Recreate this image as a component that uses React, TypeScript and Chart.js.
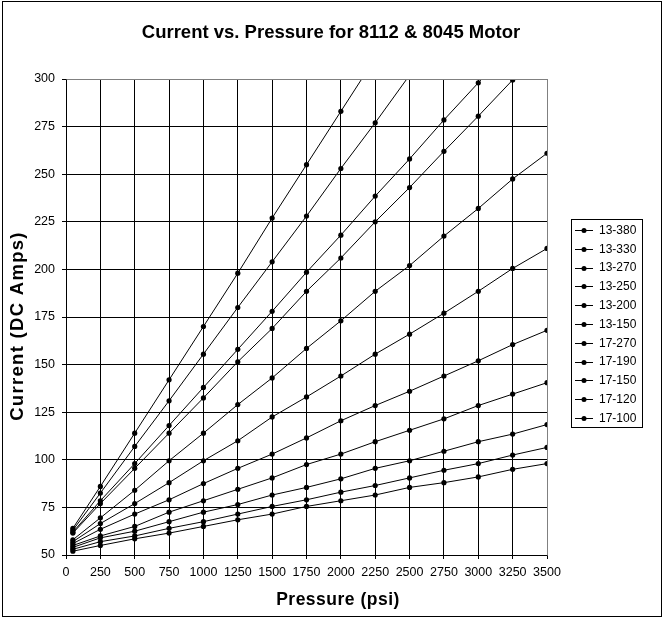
import React, { useEffect, useRef } from "react";
import { Chart, registerables } from "chart.js";

Chart.register(...registerables);

const chartTitle = "Current vs. Pressure for 8112 & 8045 Motor";
const xAxisTitle = "Pressure (psi)";
const yAxisTitle = "Current (DC Amps)";

const pressures = [50, 250, 500, 750, 1000, 1250, 1500, 1750, 2000, 2250, 2500, 2750, 3000, 3250, 3500];

const seriesNames = ["13-380", "13-330", "13-270", "13-250", "13-200", "13-150", "17-270", "17-190", "17-150", "17-120", "17-100"];

const s13_380 = [64, 86, 114, 142, 170, 198, 227, 255, 283, 311];
const s13_330 = [63, 82.5, 107, 131, 155.5, 180, 204, 228, 253, 277, 302];
const s13_270 = [62, 78.5, 98, 118, 138, 158, 178, 198.5, 218, 238.5, 258, 278.5, 298, 318];
const s13_250 = [61.5, 77, 95.5, 114, 132.5, 151.5, 169, 188.5, 206, 225, 243, 262, 280.5, 299.5, 319];
const s13_200 = [58, 69.5, 84, 99.5, 114, 129, 143, 158.5, 173, 188.5, 202, 217.5, 232, 247.5, 261];
const s13_150 = [57, 66.5, 77, 88, 99.5, 110, 122.5, 133, 144, 155.5, 166, 177, 188.5, 200.5, 211];
const s17_270 = [56, 63.5, 71.5, 79, 87.5, 95.5, 103, 111.5, 120.5, 128.5, 136, 144, 152, 160.5, 168];
const s17_190 = [55, 60, 65, 72.5, 78.5, 84.5, 90.5, 97.5, 103, 109.5, 115.5, 121.5, 128.5, 134.5, 140.5];
const s17_150 = [54, 59, 62.5, 67.5, 72.5, 76.5, 81.5, 85.5, 90, 95.5, 99.5, 104.5, 109.5, 113.5, 118.5];
const s17_120 = [53, 57, 60, 64, 67.5, 71.5, 75.5, 79, 83, 86.5, 90.5, 94.5, 98, 102.5, 106.5];
const s17_100 = [52, 55, 58.5, 61.5, 65, 68.5, 71.5, 75.5, 78.5, 81.5, 85.5, 88, 91, 95, 98];

const seriesValues = [s13_380, s13_330, s13_270, s13_250, s13_200, s13_150, s17_270, s17_190, s17_150, s17_120, s17_100];

const X_MIN = 0, X_MAX = 3500, X_STEP = 250;
const Y_MIN = 50, Y_MAX = 300, Y_STEP = 25;

const FONT = "'Liberation Sans', Arial, Helvetica, sans-serif";

const decorPlugin = {
  id: "decor",
  beforeDraw(chart: any) {
    const ctx = chart.ctx;
    ctx.save();
    ctx.fillStyle = "#ffffff";
    ctx.fillRect(0, 0, chart.width, chart.height);
    ctx.restore();
  },
  afterDraw(chart: any) {
    const ctx = chart.ctx;
    const ca = chart.chartArea;
    ctx.save();
    ctx.strokeStyle = "#808080";
    ctx.lineWidth = 1;
    ctx.beginPath();
    ctx.moveTo(Math.round(ca.left) + 0.5, Math.round(ca.top) + 0.5);
    ctx.lineTo(Math.round(ca.right) + 0.5, Math.round(ca.top) + 0.5);
    ctx.lineTo(Math.round(ca.right) + 0.5, Math.round(ca.bottom) + 0.5);
    ctx.stroke();

    ctx.strokeStyle = "#000000";
    ctx.strokeRect(2.5, 1.5, 659, 615);

    ctx.fillStyle = "#000000";
    ctx.font = `bold 18.5px ${FONT}`;
    ctx.textAlign = "center";
    ctx.textBaseline = "alphabetic";
    ctx.fillText(chartTitle, 331, 38);

    ctx.font = `bold 17.5px ${FONT}`;
    try { (ctx as any).letterSpacing = "0.5px"; } catch (e) {}
    ctx.fillText(xAxisTitle, 338, 605);
    ctx.font = `bold 18.5px ${FONT}`;
    try { (ctx as any).letterSpacing = "1.3px"; } catch (e) {}
    ctx.save();
    ctx.translate(23, 326);
    ctx.rotate(-Math.PI / 2);
    ctx.fillText(yAxisTitle, 0, 0);
    ctx.restore();
    try { (ctx as any).letterSpacing = "0px"; } catch (e) {}

    const lx = 571, ly = 219, lw = 71, lh = 208;
    ctx.fillStyle = "#ffffff";
    ctx.fillRect(lx, ly, lw, lh);
    ctx.strokeStyle = "#000000";
    ctx.strokeRect(lx + 0.5, ly + 0.5, lw, lh);
    ctx.font = `12px ${FONT}`;
    ctx.textAlign = "left";
    ctx.textBaseline = "middle";
    seriesNames.forEach((name, i) => {
      const y = 230 + 18.8 * i;
      ctx.strokeStyle = "#000000";
      ctx.lineWidth = 1;
      ctx.beginPath();
      ctx.moveTo(575, Math.round(y) + 0.5);
      ctx.lineTo(593, Math.round(y) + 0.5);
      ctx.stroke();
      ctx.fillStyle = "#000000";
      ctx.beginPath();
      ctx.arc(584, Math.round(y) + 0.5, 2.5, 0, Math.PI * 2);
      ctx.fill();
      ctx.fillText(name, 599, y + 0.5);
    });
    ctx.restore();
  },
};

export default function App() {
  const canvasRef = useRef<HTMLCanvasElement | null>(null);

  useEffect(() => {
    document.body.style.margin = "0";
    const canvas = canvasRef.current;
    if (!canvas) return;

    const datasets = seriesNames.map((name, si) => ({
      label: name,
      data: seriesValues[si].map((v, i) => ({ x: pressures[i], y: v })),
      borderColor: "#000000",
      backgroundColor: "#000000",
      borderWidth: 1,
      pointRadius: 2.6,
      pointBorderWidth: 0,
      pointBackgroundColor: "#000000",
      tension: 0,
      clip: 0,
    }));

    const chart = new Chart(canvas, {
      type: "line",
      data: { datasets },
      options: {
        animation: false,
        responsive: false,
        devicePixelRatio: 1,
        layout: { padding: { top: 79, right: 117, left: 0, bottom: 0 } },
        plugins: {
          legend: { display: false },
          title: { display: false },
          tooltip: { enabled: false },
        },
        scales: {
          x: {
            type: "linear",
            min: X_MIN,
            max: X_MAX,
            afterFit: (scale: any) => {
              scale.height = 63;
            },
            ticks: {
              stepSize: X_STEP,
              color: "#000000",
              font: { family: FONT, size: 12.5 },
              padding: 6,
              maxRotation: 0,
              autoSkip: false,
              callback: (v: any) => String(v),
            },
            grid: {
              color: (ctx: any) => (ctx.tick && ctx.tick.value === X_MAX ? "#808080" : "#000000"),
              lineWidth: 1,
              tickLength: 4,
              tickColor: "#000000",
            },
            border: { color: "#000000", width: 1 },
          },
          y: {
            type: "linear",
            min: Y_MIN,
            max: Y_MAX,
            afterFit: (scale: any) => {
              scale.width = 66;
            },
            ticks: {
              stepSize: Y_STEP,
              color: "#000000",
              font: { family: FONT, size: 12.5 },
              padding: 7,
              autoSkip: false,
              callback: (v: any) => String(v),
            },
            grid: {
              color: (ctx: any) => (ctx.tick && ctx.tick.value === Y_MAX ? "#808080" : "#000000"),
              lineWidth: 1,
              tickLength: 4,
              tickColor: "#000000",
            },
            border: { color: "#000000", width: 1 },
          },
        },
      },
      plugins: [decorPlugin],
    });

    return () => {
      chart.destroy();
    };
  }, []);

  return (
    <canvas
      ref={canvasRef}
      width={664}
      height={618}
      style={{ display: "block", width: 664, height: 618 }}
    />
  );
}
